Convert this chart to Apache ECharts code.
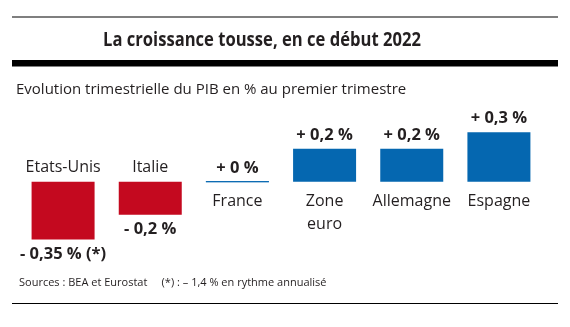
<!DOCTYPE html>
<html><head><meta charset="utf-8">
<script src="https://cdn.jsdelivr.net/npm/echarts@6/dist/echarts.min.js"></script>
<style>html,body{margin:0;padding:0;background:#fff}#c{width:570px;height:327px}</style>
</head><body><div id="c"></div>
<script>
const categories = ['Etats-Unis', 'Italie', 'France', 'Zone\neuro', 'Allemagne', 'Espagne'];
const values = [-0.35, -0.2, 0, 0.2, 0.2, 0.3];
const valueLabels = ['- 0,35 % (*)', '- 0,2 %', '+ 0 %', '+ 0,2 %', '+ 0,2 %', '+ 0,3 %'];
const title = 'La croissance tousse, en ce début 2022';
const subtitle = 'Evolution trimestrielle du PIB en % au premier trimestre';
const source = 'Sources : BEA et Eurostat     (*) : – 1,4 % en rythme annualisé';

const RED = '#c4091f', BLUE = '#0567b0', TXT = '#231f20';
const FONT = '"Open Sans", "Noto Sans", sans-serif';

const chart = echarts.init(document.getElementById('c'), null, {renderer: 'canvas'});
chart.setOption({
  animation: false,
  backgroundColor: '#fff',
  title: [
    {text: subtitle, left: 11, top: 77, textStyle: {fontFamily: FONT, fontSize: 15, fontWeight: 'normal', color: TXT}},
    {text: source, left: 14, top: 272, textStyle: {fontFamily: FONT, fontSize: 11, fontWeight: 'normal', color: TXT}}
  ],
  graphic: [
    {type: 'rect', shape: {x: 12, y: 16.5, width: 546, height: 1}, style: {fill: '#000'}},
    {type: 'rect', shape: {x: 12, y: 60, width: 546, height: 6.5}, style: {fill: '#000'}},
    {type: 'rect', shape: {x: 12, y: 303, width: 546, height: 1}, style: {fill: '#000'}},
    {type: 'text', x: 103, y: 40, scaleX: 0.83, scaleY: 1,
      style: {text: title, font: 'bold 20px "Open Sans", sans-serif', fill: TXT, textVerticalAlign: 'middle', verticalAlign: 'middle'}}
  ],
  grid: {left: 19.5, right: 27.5, top: 99.2, bottom: 62.8},
  xAxis: {type: 'category', data: categories, show: false},
  yAxis: {type: 'value', min: -0.5, max: 0.5, show: false},
  series: [
    {
      type: 'bar', barWidth: 63, barGap: '-100%',
      data: values.map((v, i) => ({
        value: v,
        itemStyle: {color: v < 0 ? RED : BLUE},
        label: {show: true, position: v < 0 ? 'bottom' : 'top', distance: v < 0 ? 6 : 5,
          formatter: valueLabels[i], fontFamily: FONT, fontSize: 16.5, fontWeight: 'bold', color: TXT}
      }))
    },
    {
      type: 'bar', barWidth: 63, barGap: '-100%',
      data: values.map((v, i) => ({
        value: 0,
        itemStyle: v === 0 ? {color: BLUE, borderColor: BLUE, borderWidth: 1} : {color: 'transparent'},
        label: {show: true, position: v < 0 ? 'top' : 'bottom', distance: v < 0 ? 3 : 8,
          formatter: categories[i], fontFamily: FONT, fontSize: 16, lineHeight: 23, color: TXT}
      }))
    }
  ]
});
</script></body></html>
